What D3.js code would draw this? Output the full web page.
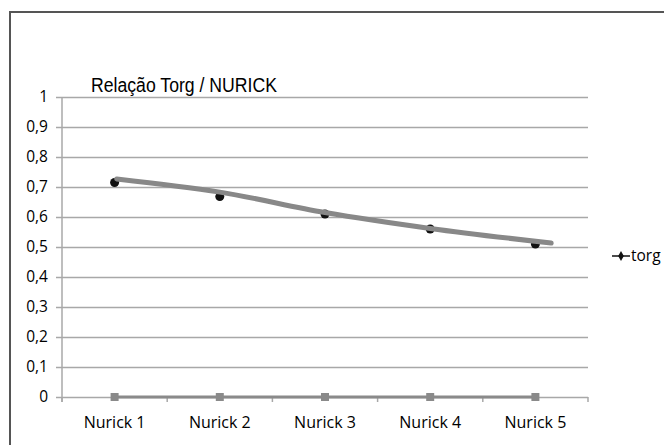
<!DOCTYPE html>
<html>
<head>
<meta charset="utf-8">
<script src="https://cdn.jsdelivr.net/npm/d3@7"></script>
<style>
  body { margin: 0; background: #fff; }
  svg { display: block; }
</style>
</head>
<body>
<div id="main-vis"></div>
<script>
// values
const categories = ['Nurick 1', 'Nurick 2', 'Nurick 3', 'Nurick 4', 'Nurick 5']
const torg = [0.715, 0.668, 0.61, 0.56, 0.51]
const baseSeries = [0, 0, 0, 0, 0]
// the thick grey trend line (position in category units, value)
const trendX = [1.02, 2, 3, 4, 5.15]
const trendY = [0.727, 0.683, 0.615, 0.562, 0.513]
const yTicks = [0, 0.1, 0.2, 0.3, 0.4, 0.5, 0.6, 0.7, 0.8, 0.9, 1]
const title = 'Relação Torg / NURICK'
const legendLabel = 'torg'

window.onload = setup

function setup () {
    const width = 664, height = 445
    const plot = {left: 62, right: 588, top: 97, bottom: 397}

    const svg = d3.create('svg')
        .attr('width', width)
        .attr('height', height)

    // frame around the figure (runs off the right and bottom)
    svg.append('path')
        .attr('d', `M10,${height + 5} V12 H${width + 5}`)
        .attr('fill', 'none')
        .attr('stroke', '#555')
        .attr('stroke-width', 2)

    const x = d3.scaleLinear().domain([0.5, categories.length + 0.5]).range([plot.left, plot.right])
    const y = d3.scaleLinear().domain([0, 1]).range([plot.bottom, plot.top])

    // gridlines + y labels
    const yAxis = d3.axisLeft(y)
        .tickValues(yTicks)
        .tickSize(-(plot.right - plot.left) - 6)
        .tickPadding(10)
        .tickFormat(d => d3.format('.1~f')(d).replace('.', ','))
    svg.append('g')
        .attr('transform', `translate(${plot.left - 6},0)`)
        .call(yAxis)
        .call(g => g.select('.domain').remove())
        .call(g => g.selectAll('.tick line').attr('stroke', '#a8a8a8').attr('stroke-width', 1.5))
        .call(g => g.selectAll('.tick text')
            .attr('fill', '#000')
            .attr('font-family', 'Open Sans, sans-serif')
            .attr('font-size', 15.5)
            .attr('x', -8))

    // vertical axis line
    svg.append('line')
        .attr('x1', plot.left).attr('x2', plot.left)
        .attr('y1', plot.top).attr('y2', plot.bottom + 5)
        .attr('stroke', '#a8a8a8').attr('stroke-width', 1.5)

    // x axis: boundary ticks + category labels
    const bounds = d3.range(categories.length + 1).map(i => i + 0.5)
    svg.selectAll('line.xtick')
        .data(bounds)
        .join('line')
        .attr('class', 'xtick')
        .attr('x1', d => x(d)).attr('x2', d => x(d))
        .attr('y1', plot.bottom).attr('y2', plot.bottom + 5)
        .attr('stroke', '#a8a8a8').attr('stroke-width', 1.5)

    svg.selectAll('text.xlabel')
        .data(categories)
        .join('text')
        .attr('class', 'xlabel')
        .attr('x', (d, i) => x(i + 1))
        .attr('y', plot.bottom + 31)
        .attr('text-anchor', 'middle')
        .attr('font-family', 'Open Sans, sans-serif')
        .attr('font-size', 16)
        .attr('fill', '#000')
        .text(d => d)

    // zero series (grey line + square markers)
    const line = d3.line().x((d, i) => x(i + 1)).y(d => y(d))
    svg.append('path')
        .attr('d', line(baseSeries))
        .attr('fill', 'none')
        .attr('stroke', '#8a8a8a')
        .attr('stroke-width', 3)
    svg.selectAll('rect.base')
        .data(baseSeries)
        .join('rect')
        .attr('class', 'base')
        .attr('x', (d, i) => x(i + 1) - 4)
        .attr('y', d => y(d) - 4)
        .attr('width', 8).attr('height', 8)
        .attr('fill', '#8a8a8a')

    // torg markers
    svg.selectAll('circle.torg')
        .data(torg)
        .join('circle')
        .attr('class', 'torg')
        .attr('cx', (d, i) => x(i + 1))
        .attr('cy', d => y(d))
        .attr('r', 4.5)
        .attr('fill', '#111')

    // trend line on top
    const trend = trendX.map((v, i) => [v, trendY[i]])
    svg.append('path')
        .attr('d', d3.line().x(d => x(d[0])).y(d => y(d[1])).curve(d3.curveMonotoneX)(trend))
        .attr('fill', 'none')
        .attr('stroke', '#888')
        .attr('stroke-width', 5)
        .attr('stroke-linecap', 'round')

    // title
    svg.append('text')
        .attr('x', 91)
        .attr('y', 92)
        .attr('font-family', 'Liberation Sans, Arial, sans-serif')
        .attr('font-size', 20)
        .attr('textLength', 186)
        .attr('lengthAdjust', 'spacingAndGlyphs')
        .attr('fill', '#000')
        .text(title)

    // legend
    const lg = svg.append('g').attr('transform', 'translate(612,256)')
    lg.append('line').attr('x1', 0).attr('x2', 18).attr('stroke', '#111').attr('stroke-width', 1.5)
    lg.append('path').attr('d', d3.symbol(d3.symbolDiamond, 28)()).attr('transform', 'translate(9,0)').attr('fill', '#111')
    lg.append('text')
        .attr('x', 19)
        .attr('y', 5)
        .attr('font-family', 'Open Sans, sans-serif')
        .attr('font-size', 15.5)
        .attr('fill', '#000')
        .text(legendLabel)

    d3.select('#main-vis').node().appendChild(svg.node())
}
</script>
</body>
</html>
